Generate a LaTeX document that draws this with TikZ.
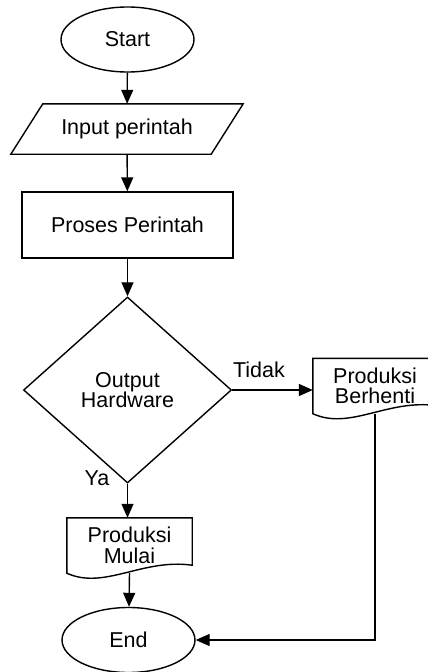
\documentclass[tikz,border=0pt]{standalone}
\usepackage{fontspec}
\setmainfont{Liberation Sans}
\usetikzlibrary{shapes.geometric,arrows.meta,calc}
\tikzset{
  line/.style={line width=1.4pt, black},
  arr/.style={line, -{Triangle[length=14pt,width=12pt]}},
  txt/.style={font=\fontsize{21.5}{20.5}\selectfont, align=center, inner sep=0pt},
  term/.style={txt, ellipse, draw, line, minimum width=133pt, minimum height=65pt},
  procbox/.style={txt, rectangle, draw, line, minimum width=211pt, minimum height=66pt},
  iobox/.style={txt, rectangle, minimum width=200pt, minimum height=50pt},
  docbox/.style={txt, rectangle, minimum height=55pt},
  decbox/.style={txt, diamond, draw, line, minimum width=208pt, minimum height=186pt},
  lbl/.style={font=\fontsize{21.5}{20.5}\selectfont, inner sep=0pt}
}
\newcommand\docshape[1]{%
  \draw[line] (#1.north west) -- (#1.south west)
    .. controls ($(#1.south west)!0.3!(#1.south east)+(0,17)$)
       and ($(#1.south west)!0.6!(#1.south east)+(0,-15)$)
    .. ($(#1.south east)+(0,-8)$) -- (#1.north east) -- cycle;}
\begin{document}
\begin{tikzpicture}[x=1pt,y=-1pt]
\clip (0,0) rectangle (428,672);
\useasboundingbox (0,0) rectangle (428,672);
\node[term] (start) at (127.5,39.5) {Start};
\node[iobox] (in) at (127,129) {Input perintah};
\draw[line] ($(in.north west)+(16,0)$) -- ($(in.north east)+(16,0)$)
  -- ($(in.south east)+(-16,0)$) -- ($(in.south west)+(-16,0)$) -- cycle;
\node[procbox] (proc) at (127.5,225) {Proses Perintah};
\node[decbox] (dec) at (127.5,390) {Output\\Hardware};
\node[docbox, minimum width=124pt] (berh) at (375,386) {Produksi\\Berhenti};
\docshape{berh}
\node[docbox, minimum width=125pt] (mulai) at (129.5,545.5) {Produksi\\Mulai};
\docshape{mulai}
\node[term] (end) at (128.5,640) {End};
\draw[arr] (start) -- (in);
\draw[arr] (in) -- (proc);
\draw[arr] (proc) -- (dec);
\draw[arr] (dec.east) -- (dec.east -| berh.west);
\node[lbl] (tidak) at (259,370) {Tidak};
\draw[arr] (dec.south) -- (dec.south |- mulai.north);
\node[lbl] (ya) at (97,478) {Ya};
\draw[arr] (mulai.south) -- (end);
\draw[arr] (berh.south) |- (end.east);
\end{tikzpicture}
\end{document}
